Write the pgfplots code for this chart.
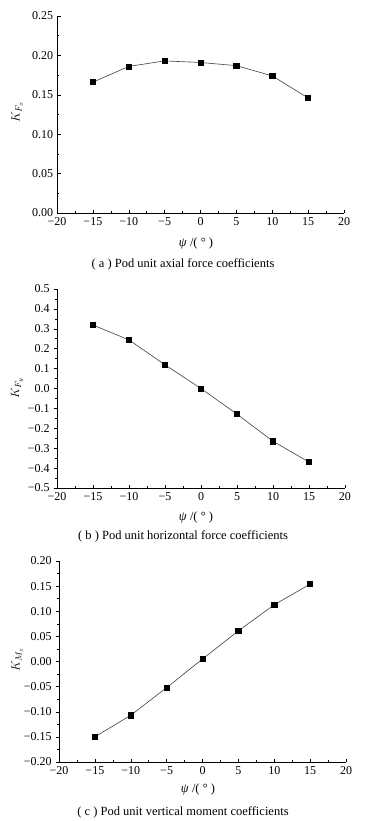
\documentclass[border=0pt]{standalone}
\usepackage{pgfplots}
\pgfplotsset{compat=1.18}
\usepackage{fontspec}
\setmainfont{Liberation Serif}
\begin{document}
\fontsize{12.5}{14}\selectfont
\begin{tikzpicture}[x=1pt,y=1pt]
\useasboundingbox (0pt,0pt) rectangle (380pt,-821pt);
\pgfplotsset{
  myax/.style={
    scale only axis, axis lines=left, axis line style={-, line width=0.6pt},
    xmin=-20, xmax=20, xtick={-20,-15,...,20},
    xticklabels={−20,−15,−10,−5,0,5,10,15,20},
    minor x tick num=1, minor y tick num=1,
    major tick length=3.5pt, minor tick length=2pt,
    every tick/.style={black, line width=0.5pt},
    xtick align=inside,
    tick label style={font=\fontsize{12}{14}\selectfont},
    xticklabel style={yshift=-0.5pt},
    yticklabel style={xshift=0.5pt},
    clip=false,
  },
  myplot/.style={black!75, line width=0.6pt, mark=square*, mark size=2.6pt,
    mark options={fill=black, draw=black}},
}
% (a)
\begin{axis}[myax, at={(57pt,-213pt)}, anchor=south west, width=287pt, height=197pt,
  ymin=0, ymax=0.25, ytick={0,0.05,...,0.25},
  yticklabels={0.00,0.05,0.10,0.15,0.20,0.25}, ytick align=inside]
\addplot[myplot] coordinates {(-15,0.166) (-10,0.186) (-5,0.193) (0,0.191) (5,0.187) (10,0.174) (15,0.146)};
\end{axis}
\node at (17pt,-112pt) [rotate=90] {$K_{F_x}$};
\node at (196pt,-243pt) {\textit{ψ} /( ° )};
\node at (183pt,-264pt) {( a ) Pod unit axial force coefficients};
% (b)
\begin{axis}[myax, at={(57pt,-488pt)}, anchor=south west, width=288pt, height=199pt,
  ymin=-0.5, ymax=0.5, ytick={-0.5,-0.4,...,0.5},
  yticklabels={−0.5,−0.4,−0.3,−0.2,−0.1,0.0,0.1,0.2,0.3,0.4,0.5}, ytick align=outside]
\addplot[myplot] coordinates {(-15,0.319) (-10,0.244) (-5,0.119) (0,0.0) (5,-0.129) (10,-0.265) (15,-0.370)};
\end{axis}
\node at (17pt,-388pt) [rotate=90] {$K_{F_y}$};
\node at (196pt,-517pt) {\textit{ψ} /( ° )};
\node at (183pt,-536pt) {( b ) Pod unit horizontal force coefficients};
% (c)
\begin{axis}[myax, at={(59pt,-762pt)}, anchor=south west, width=287pt, height=201pt,
  ymin=-0.2, ymax=0.2, ytick={-0.2,-0.15,...,0.2},
  yticklabels={−0.20,−0.15,−0.10,−0.05,0.00,0.05,0.10,0.15,0.20}, ytick align=outside]
\addplot[myplot] coordinates {(-15,-0.150) (-10,-0.107) (-5,-0.052) (0,0.005) (5,0.061) (10,0.113) (15,0.154)};
\end{axis}
\node at (17pt,-660pt) [rotate=90] {$K_{M_z}$};
\node at (198pt,-789pt) {\textit{ψ} /( ° )};
\node at (183pt,-812pt) {( c ) Pod unit vertical moment coefficients};
\end{tikzpicture}
\end{document}
